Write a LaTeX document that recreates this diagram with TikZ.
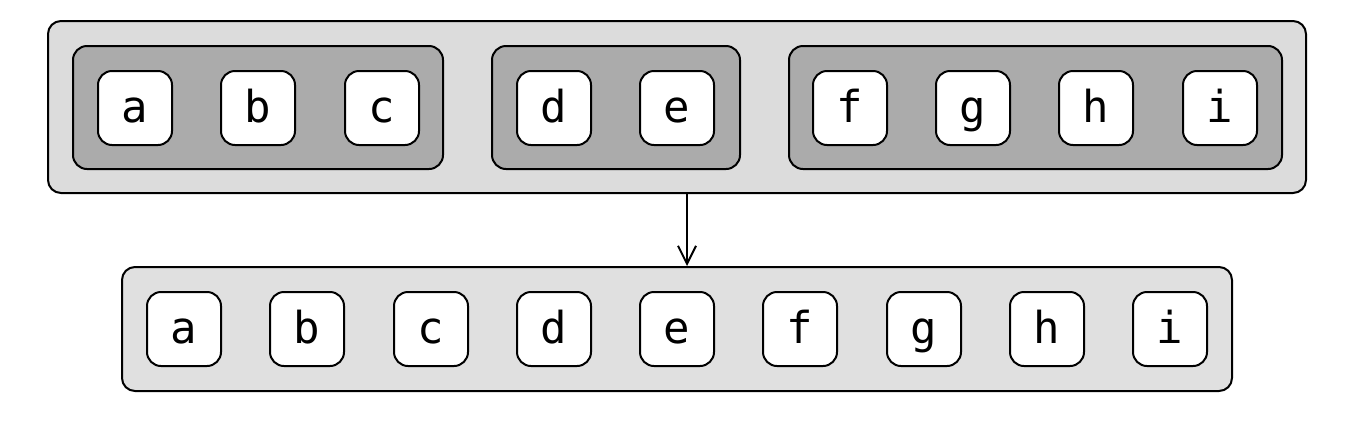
\documentclass[tikz,border=0pt]{standalone}
\usepackage{fontspec}
\setmonofont{DejaVu Sans Mono}
\usetikzlibrary{arrows.meta}
\definecolor{outerfill}{HTML}{DCDCDC}
\definecolor{groupfill}{HTML}{ABABAB}
\definecolor{botfill}{HTML}{E0E0E0}
\tikzset{
  letterbox/.style={draw=black, line width=2pt, fill=white, rounded corners=14pt,
    minimum width=74pt, minimum height=74pt, inner sep=0pt,
    text height=28pt, text depth=0pt,
    font=\ttfamily\fontsize{44}{48}\selectfont},
  groupbox/.style={draw=black, line width=2pt, fill=groupfill, rounded corners=14pt,
    minimum height=123pt, inner sep=0pt},
  outerbox/.style={draw=black, line width=2pt, fill=outerfill, rounded corners=13pt,
    minimum width=1258pt, minimum height=172pt, inner sep=0pt},
  botbox/.style={draw=black, line width=2pt, fill=botfill, rounded corners=13pt,
    minimum width=1110pt, minimum height=124pt, inner sep=0pt},
}
\begin{document}
\begin{tikzpicture}[x=1pt,y=-1pt]
\useasboundingbox (0,0) rectangle (1356,424);
\node[outerbox] (top) at (677,107) {};
\node[groupbox, minimum width=370pt] (g1) at (258,107.5) {};
\node[groupbox, minimum width=248pt] (g2) at (616,107.5) {};
\node[groupbox, minimum width=493pt] (g3) at (1035.5,107.5) {};
\foreach \l/\x in {a/135,b/258,c/382,d/554,e/677,f/850,g/973,h/1096,i/1220}{
  \node[letterbox] (t\l) at (\x,108) {\l};
}
\node[botbox] (bot) at (677,329) {};
\foreach \l/\x in {a/184,b/307,c/431,d/554,e/677,f/800,g/924,h/1047,i/1170}{
  \node[letterbox] (b\l) at (\x,329) {\l};
}
\coordinate (ax) at (687,230);
\draw[line width=2pt, -{Straight Barb[length=18pt,width=18pt,line width=2pt]}]
  (top.south -| ax) -- (bot.north -| ax);
\end{tikzpicture}
\end{document}
